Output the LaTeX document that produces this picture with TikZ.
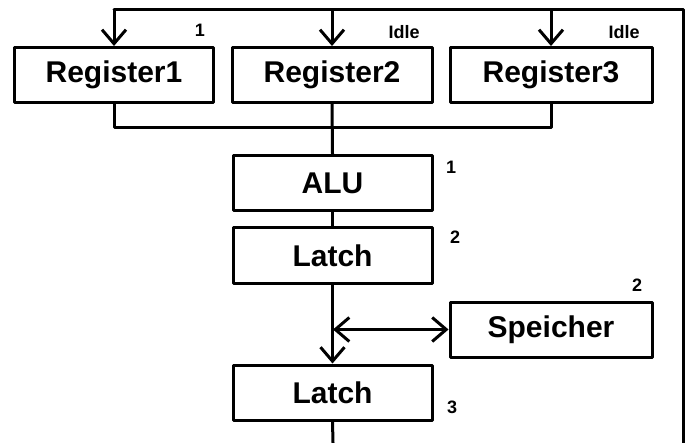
\documentclass[tikz,border=0pt]{standalone}
\usepackage{fontspec}
\setmainfont{Liberation Sans}
\usetikzlibrary{arrows.meta}

\tikzset{
  unit/.style = {draw, line width=3pt, inner sep=0pt, minimum width=199pt, minimum height=55pt,
                 font=\fontsize{30}{32}\selectfont\bfseries},
  tag/.style  = {inner sep=0pt, font=\fontsize{18}{19}\selectfont\bfseries},
  bus/.style  = {line width=3pt},
  barb/.style = {-{Straight Barb[length=14pt,width=24pt,line width=3pt]}},
}

\begin{document}
\begin{tikzpicture}[x=1pt, y=-1pt, line join = round, line cap = round]
\useasboundingbox (0,0) rectangle (692,443);

\node [unit] (reg1)   at (114,75)    {Register1};
\node [unit, minimum width=200pt] (reg2) at (332,75) {Register2};
\node [unit, minimum width=202pt] (reg3) at (551,75) {Register3};
\node [unit] (alu)    at (332.5,183) {ALU};
\node [unit] (latchA) at (332.5,255.5) {Latch};
\node [unit, minimum width=202pt] (mem) at (551,329.5) {Speicher};
\node [unit] (latchB) at (332.5,392.5) {Latch};

\coordinate (topL) at (114,10);
\coordinate (topR) at (683,10);
\coordinate (botR) at (683,443);
\coordinate (join) at (332,128);
\coordinate (tap)  at (333,329.5);
\coordinate (bot)  at (333,443);

% Rueckfuehrung und Registereingaenge
\draw[bus] (topL) -- (topR) -- (botR);
\foreach \r in {reg1,reg2,reg3}
    \draw[bus, barb] (\r.north |- topL) -- (\r.north);

% Registerausgaenge zur ALU
\draw[bus] (reg1.south) |- (join) -| (reg3.south);
\draw[bus] (reg2.south) -- (alu.north);
\draw[bus] (alu.south) -- (latchA.north);
\draw[bus, barb] (latchA.south) -- (latchB.north);
\draw[bus, {Straight Barb[length=14pt,width=24pt,line width=3pt]}-{Straight Barb[length=14pt,width=24pt,line width=3pt]}] (tap) -- (mem.west);
\draw[bus] (latchB.south) -- (bot);

% Takte
\node [tag] (t1) at (200,30)  {1};
\node [tag] (t2) at (404,32)  {Idle};
\node [tag] (t3) at (624,32)  {Idle};
\node [tag] (t4) at (451,167) {1};
\node [tag] (t5) at (455,237) {2};
\node [tag] (t6) at (637,285) {2};
\node [tag] (t7) at (452,407) {3};

\end{tikzpicture}
\end{document}
